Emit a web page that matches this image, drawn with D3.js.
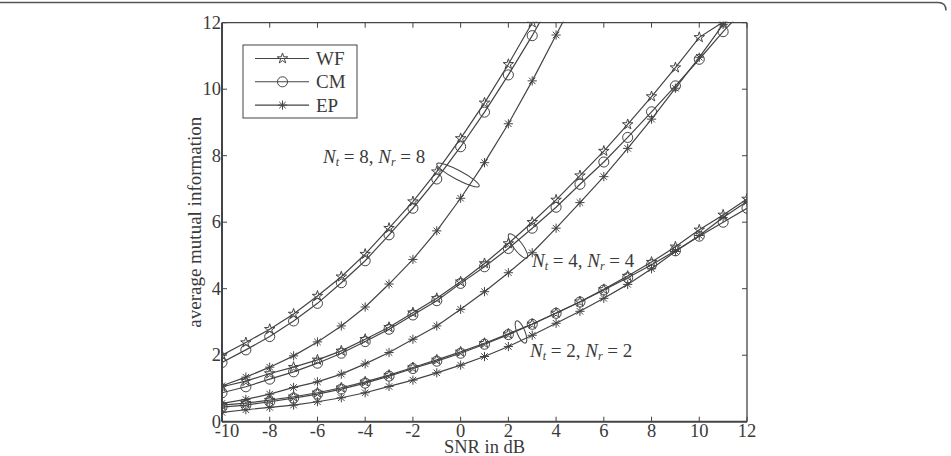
<!DOCTYPE html>
<html>
<head>
<meta charset="utf-8">
<script src="https://cdn.jsdelivr.net/npm/d3@7"></script>
<style>
  html, body { margin: 0; padding: 0; background: #fff; }
  text { font-family: "Liberation Serif", "DejaVu Serif", serif; fill: #3a3a3a; }
</style>
</head>
<body>
<div id="chart"></div>
<script>
const snr = [-10, -9, -8, -7, -6, -5, -4, -3, -2, -1, 0, 1, 2, 3, 4, 5, 6, 7, 8, 9, 10, 11, 12];

// N_t = N_r = 8 (values past 12 only make the line leave the box)
const wf8 = [2.0, 2.38, 2.78, 3.24, 3.78, 4.36, 5.04, 5.82, 6.62, 7.52, 8.52, 9.59, 10.75, 12.0, 13.3];
const cm8 = [1.78, 2.16, 2.56, 3.03, 3.56, 4.18, 4.84, 5.62, 6.42, 7.30, 8.27, 9.31, 10.43, 11.61, 12.9];
const ep8 = [1.08, 1.34, 1.64, 1.98, 2.40, 2.88, 3.45, 4.14, 4.88, 5.74, 6.72, 7.79, 8.96, 10.25, 11.63, 13.0];

// N_t = N_r = 4
const wf4 = [1.05, 1.22, 1.45, 1.64, 1.86, 2.13, 2.48, 2.84, 3.28, 3.71, 4.21, 4.76, 5.36, 6.0, 6.67, 7.40, 8.14, 8.94, 9.78, 10.65, 11.56, 12.02, 13.0];
const cm4 = [0.87, 1.05, 1.28, 1.50, 1.76, 2.06, 2.41, 2.78, 3.21, 3.64, 4.16, 4.66, 5.21, 5.82, 6.45, 7.14, 7.81, 8.55, 9.32, 10.10, 10.90, 11.73, 12.5];
const ep4 = [0.55, 0.67, 0.83, 1.03, 1.20, 1.43, 1.74, 2.08, 2.48, 2.88, 3.38, 3.91, 4.48, 5.08, 5.82, 6.59, 7.37, 8.22, 9.10, 10.03, 10.96, 11.95, 12.9];

// N_t = N_r = 2
const wf2 = [0.50, 0.56, 0.65, 0.75, 0.87, 1.02, 1.20, 1.40, 1.63, 1.86, 2.10, 2.36, 2.64, 2.94, 3.27, 3.61, 3.98, 4.38, 4.80, 5.26, 5.77, 6.22, 6.70];
const cm2 = [0.44, 0.50, 0.60, 0.71, 0.83, 0.98, 1.16, 1.37, 1.60, 1.82, 2.06, 2.33, 2.62, 2.93, 3.26, 3.60, 3.96, 4.33, 4.72, 5.14, 5.58, 6.00, 6.42];
const ep2 = [0.28, 0.36, 0.43, 0.50, 0.60, 0.72, 0.87, 1.06, 1.25, 1.47, 1.70, 1.96, 2.26, 2.60, 2.96, 3.32, 3.71, 4.13, 4.60, 5.12, 5.60, 6.14, 6.62];

const xTicks = [-10, -8, -6, -4, -2, 0, 2, 4, 6, 8, 10, 12];
const yTicks = [0, 2, 4, 6, 8, 10, 12];
const legendNames = ['WF', 'CM', 'EP'];

const series = [
    {vals: wf8, m: 'WF'}, {vals: cm8, m: 'CM'}, {vals: ep8, m: 'EP'},
    {vals: wf4, m: 'WF'}, {vals: cm4, m: 'CM'}, {vals: ep4, m: 'EP'},
    {vals: wf2, m: 'WF'}, {vals: cm2, m: 'CM'}, {vals: ep2, m: 'EP'}
];

const width = 951, height = 456;
const pLeft = 222, pRight = 747, pTop = 22.7, pBottom = 421.7;
const ink = '#444';

const svg = d3.select('#chart').append('svg')
    .attr('width', width)
    .attr('height', height);

// figure frame (only the top edge shows)
svg.append('path')
    .attr('d', 'M0,2.5 L938,2.5 Q946,2.5 946,10.5')
    .attr('fill', 'none')
    .attr('stroke', '#555')
    .attr('stroke-width', 1.5);

const x = d3.scaleLinear().domain([-10, 12]).range([pLeft, pRight]);
const y = d3.scaleLinear().domain([0, 12]).range([pBottom, pTop]);

svg.append('clipPath').attr('id', 'plot')
    .append('rect')
    .attr('x', pLeft).attr('y', pTop - 1)
    .attr('width', pRight - pLeft).attr('height', pBottom - pTop + 1);

// markers
const star = d3.symbol().type(d3.symbolStar).size(34);
const circ = d3.symbol().type(d3.symbolCircle).size(80);
const asterisk = function(r) {
    let p = '';
    for (let k = 0; k < 4; k++) {
        const a = k * Math.PI / 4;
        const dx = r * Math.cos(a), dy = r * Math.sin(a);
        p += 'M' + (-dx) + ',' + (-dy) + 'L' + dx + ',' + dy;
    }
    return p;
};
const markerPath = function(m) {
    if (m === 'WF') return star();
    if (m === 'CM') return circ();
    return asterisk(4.6);
};

const line = d3.line()
    .x(function(d, i) { return x(snr[i]); })
    .y(function(d) { return y(d); });

const plot = svg.append('g').attr('clip-path', 'url(#plot)');

series.forEach(function(s) {
    plot.append('path')
        .attr('d', line(s.vals))
        .attr('fill', 'none')
        .attr('stroke', ink)
        .attr('stroke-width', 1.2);

    plot.selectAll(null)
        .data(s.vals.filter(function(v) { return v <= 12.05; }))
        .enter()
        .append('path')
        .attr('transform', function(d, i) { return 'translate(' + x(snr[i]) + ',' + y(d) + ')'; })
        .attr('d', markerPath(s.m))
        .attr('fill', 'none')
        .attr('stroke', ink)
        .attr('stroke-width', 1);
});

// axes box with inward ticks
const axes = svg.append('g');
axes.append('line').attr('x1', pLeft).attr('x2', pRight).attr('y1', pTop).attr('y2', pTop)
    .attr('stroke', ink).attr('stroke-width', 1.3);
axes.append('line').attr('x1', pRight).attr('x2', pRight).attr('y1', pTop).attr('y2', pBottom)
    .attr('stroke', ink).attr('stroke-width', 1.3);
axes.append('line').attr('x1', pLeft).attr('x2', pRight).attr('y1', pBottom).attr('y2', pBottom)
    .attr('stroke', ink).attr('stroke-width', 2);
axes.append('line').attr('x1', pLeft).attr('x2', pLeft).attr('y1', pTop).attr('y2', pBottom)
    .attr('stroke', ink).attr('stroke-width', 2);

xTicks.forEach(function(t) {
    axes.append('line').attr('x1', x(t)).attr('x2', x(t)).attr('y1', pBottom).attr('y2', pBottom - 5)
        .attr('stroke', ink).attr('stroke-width', 1);
    axes.append('line').attr('x1', x(t)).attr('x2', x(t)).attr('y1', pTop).attr('y2', pTop + 5)
        .attr('stroke', ink).attr('stroke-width', 1);
    axes.append('text')
        .attr('x', x(t) + (t === -10 ? 5 : 0)).attr('y', pBottom + 15.5)
        .attr('text-anchor', 'middle')
        .attr('font-size', 18.5)
        .text(t);
});

yTicks.forEach(function(t) {
    axes.append('line').attr('x1', pLeft).attr('x2', pLeft + 5).attr('y1', y(t)).attr('y2', y(t))
        .attr('stroke', ink).attr('stroke-width', 1);
    axes.append('line').attr('x1', pRight).attr('x2', pRight - 5).attr('y1', y(t)).attr('y2', y(t))
        .attr('stroke', ink).attr('stroke-width', 1);
    axes.append('text')
        .attr('x', pLeft - 1).attr('y', y(t) + 6)
        .attr('text-anchor', 'end')
        .attr('font-size', 18.5)
        .text(t);
});

svg.append('text')
    .attr('x', (pLeft + pRight) / 2).attr('y', 453)
    .attr('text-anchor', 'middle')
    .attr('font-size', 18.5)
    .text('SNR in dB');

svg.append('text')
    .attr('transform', 'translate(201,' + ((pTop + pBottom) / 2) + ') rotate(-90)')
    .attr('text-anchor', 'middle')
    .attr('font-size', 19)
    .text('average mutual information');

// legend
const lg = svg.append('g');
lg.append('rect')
    .attr('x', 243).attr('y', 45)
    .attr('width', 114).attr('height', 73)
    .attr('fill', '#fff')
    .attr('stroke', ink)
    .attr('stroke-width', 1);
legendNames.forEach(function(name, i) {
    const ly = 58.5 + i * 23.3;
    lg.append('line').attr('x1', 255).attr('x2', 309).attr('y1', ly).attr('y2', ly)
        .attr('stroke', ink).attr('stroke-width', 1.1);
    lg.append('path')
        .attr('transform', 'translate(282.5,' + ly + ')')
        .attr('d', markerPath(name))
        .attr('fill', 'none')
        .attr('stroke', ink)
        .attr('stroke-width', 1);
    lg.append('text')
        .attr('x', 316).attr('y', ly + 6.5)
        .attr('font-size', 19)
        .text(name);
});

// group annotations
const notes = [
    {n: 8, tx: 323, ty: 163, cx: 458, cy: 175, rx: 24, ry: 4.5, rot: 28},
    {n: 4, tx: 532, ty: 267, cx: 518, cy: 246, rx: 15, ry: 4.5, rot: 53},
    {n: 2, tx: 530, ty: 357, cx: 521, cy: 332, rx: 12, ry: 4, rot: 68}
];
notes.forEach(function(a) {
    svg.append('ellipse')
        .attr('transform', 'translate(' + a.cx + ',' + a.cy + ') rotate(' + a.rot + ')')
        .attr('rx', a.rx).attr('ry', a.ry)
        .attr('fill', 'none')
        .attr('stroke', ink)
        .attr('stroke-width', 1);
    const t = svg.append('text')
        .attr('x', a.tx).attr('y', a.ty)
        .attr('font-size', 19)
        .attr('fill', '#555');
    t.append('tspan').attr('font-style', 'italic').text('N');
    t.append('tspan').attr('font-style', 'italic').attr('font-size', 12).attr('dy', 3).text('t');
    t.append('tspan').attr('dy', -3).text(' = ' + a.n + ', ');
    t.append('tspan').attr('font-style', 'italic').text('N');
    t.append('tspan').attr('font-style', 'italic').attr('font-size', 12).attr('dy', 3).text('r');
    t.append('tspan').attr('dy', -3).text(' = ' + a.n);
});
</script>
</body>
</html>
